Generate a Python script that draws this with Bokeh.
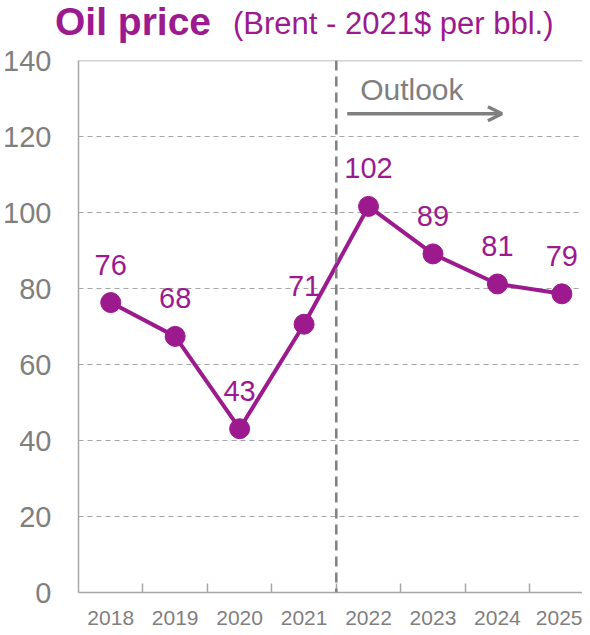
from bokeh.plotting import figure
from bokeh.models import (ColumnDataSource, LabelSet, Label, Span, Arrow, OpenHead,
                          FixedTicker, Range1d, Div)
from bokeh.layouts import column
from bokeh.embed import file_html
from bokeh.resources import INLINE
from bokeh.core.properties import value

years = ["2018", "2019", "2020", "2021", "2022", "2023", "2024", "2025"]
prices = [76.3, 67.4, 43.1, 70.6, 101.6, 89.1, 81.2, 78.6]
price_labels = ["76", "68", "43", "71", "102", "89", "81", "79"]
y_ticks = [0, 20, 40, 60, 80, 100, 120, 140]
outlook_start = 4  # boundary between 2021 and 2022
title_main = "Oil price"
title_sub = "(Brent - 2021$ per bbl.)"

PURPLE = "#9C1A8E"
AXIS_GRAY = "#A6A6A6"
TEXT_GRAY = "#7F7F7F"
FONT = "Liberation Sans"

TITLE_H = 44
TOTAL_H = 627

xpos = [i + 0.5 for i in range(len(years))]
src = ColumnDataSource(dict(x=xpos, y=prices, lab=price_labels))

title_html = (
    f'<div style="position:relative;width:582px;height:{TITLE_H}px;">'
    f'<span style="position:absolute;left:55px;top:2px;white-space:nowrap;'
    f"font-family:'{FONT}';font-weight:bold;font-size:39px;line-height:39px;"
    f'color:{PURPLE};">{title_main}</span>'
    f'<span style="position:absolute;left:233px;top:8px;white-space:nowrap;'
    f"font-family:'{FONT}';font-size:31px;line-height:31px;"
    f'color:{PURPLE};">{title_sub}</span></div>'
)
div = Div(text=title_html, width=582, height=TITLE_H, margin=(0, 0, 0, 0))

p = figure(width=582, height=TOTAL_H - TITLE_H, output_backend="svg", toolbar_location=None,
           x_range=Range1d(0, 7.82), y_range=Range1d(0, 140),
           min_border_left=76, min_border_right=0, min_border_top=60 - TITLE_H,
           min_border_bottom=34, margin=(0, 0, 0, 0))
p.outline_line_color = None
p.background_fill_color = "white"
p.border_fill_color = "white"

# grid
p.xgrid.grid_line_color = None
p.ygrid.ticker = FixedTicker(ticks=y_ticks[:-1])
p.ygrid.grid_line_color = AXIS_GRAY
p.ygrid.grid_line_dash = "5 4"
p.ygrid.grid_line_width = 1.2

# top border line at the axis maximum
p.add_layout(Span(location=y_ticks[-1], dimension="width", line_color=AXIS_GRAY, line_width=1.5))

# x axis
xa = p.xaxis[0]
xa.ticker = FixedTicker(ticks=xpos, minor_ticks=list(range(1, len(years))))
xa.major_label_overrides = {x: y for x, y in zip(xpos, years)}
xa.major_tick_in = 0
xa.major_tick_out = 0
xa.minor_tick_in = 9
xa.minor_tick_out = 0
xa.minor_tick_line_color = AXIS_GRAY
xa.minor_tick_line_width = 1.5
xa.axis_line_color = AXIS_GRAY
xa.axis_line_width = 1.5
xa.major_label_text_font = FONT
xa.major_label_text_font_size = "21px"
xa.major_label_text_color = TEXT_GRAY
xa.major_label_standoff = 18

# y axis
ya = p.yaxis[0]
ya.ticker = FixedTicker(ticks=y_ticks)
ya.major_tick_in = 0
ya.major_tick_out = 0
ya.minor_tick_line_color = None
ya.axis_line_color = AXIS_GRAY
ya.axis_line_width = 1.5
ya.major_label_text_font = FONT
ya.major_label_text_font_size = "29px"
ya.major_label_text_color = TEXT_GRAY
ya.major_label_standoff = 27

# outlook divider
p.add_layout(Span(location=outlook_start, dimension="height", line_color=TEXT_GRAY,
                  line_width=2.5, line_dash="10 6"))

# data
p.line("x", "y", source=src, line_color=PURPLE, line_width=4)
p.scatter("x", "y", source=src, size=20, fill_color=PURPLE, line_color=PURPLE)
p.add_layout(LabelSet(x="x", y="y", text="lab", source=src, y_offset=28,
                      text_align="center", text_baseline="bottom",
                      text_font=value(FONT), text_font_size="29px", text_color=PURPLE))

# outlook annotation
p.add_layout(Label(x=4.37, y=132.3, text="Outlook", text_font=FONT,
                   text_font_size="30px", text_color=TEXT_GRAY,
                   text_align="left", text_baseline="middle"))
p.add_layout(Arrow(x_start=4.17, y_start=126.0, x_end=6.57, y_end=126.0,
                   line_color=TEXT_GRAY, line_width=3.5,
                   end=OpenHead(size=14, line_color=TEXT_GRAY, line_width=3.5)))

layout = column(div, p, spacing=0)
open("out.html", "w").write(file_html(layout, INLINE))
